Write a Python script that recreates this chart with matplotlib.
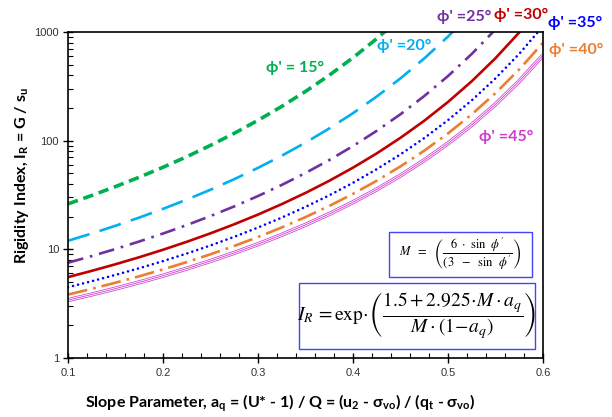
import matplotlib
matplotlib.use("Agg")
import matplotlib.pyplot as plt
from matplotlib.ticker import FixedLocator, NullFormatter, LogLocator

plt.rcParams['font.family'] = ['Lato', 'Noto Sans', 'DejaVu Sans']
plt.rcParams['mathtext.fontset'] = 'custom'
plt.rcParams['mathtext.rm'] = 'Lato:bold'
plt.rcParams['mathtext.it'] = 'Lato:bold'
plt.rcParams['mathtext.bf'] = 'Lato:bold'

# Slope parameter a_q
aq = [0.100, 0.125, 0.150, 0.175, 0.200, 0.225, 0.250, 0.275, 0.300, 0.325,
      0.350, 0.375, 0.400, 0.425, 0.450, 0.475, 0.500, 0.525, 0.550, 0.575, 0.600]

# Rigidity index I_R for each friction angle
ir_15 = [26.2, 31.3, 37.8, 46.1, 56.9, 71.2, 90.5, 116.9, 153.9, 206.7,
         283.9, 400.0, 580.0, 868.5, 1349.3]
ir_20 = [11.99, 13.99, 16.48, 19.60, 23.57, 28.68, 35.36, 44.22, 56.21, 72.72,
         95.97, 129.5, 179.1, 254.9, 374.5, 570.8, 907.5, 1514.9]
ir_25 = [7.53, 8.67, 10.07, 11.81, 13.97, 16.72, 20.25, 24.84, 30.93, 39.14,
         50.43, 66.32, 89.22, 123.2, 175.1, 257.4, 393.2, 628.1, 1056.9]
ir_30 = [5.55, 6.34, 7.29, 8.46, 9.91, 11.73, 14.04, 17.01, 20.89, 26.06,
         33.05, 42.73, 56.45, 76.39, 106.3, 152.5, 227.0, 352.3, 574.1, 990.8, 1830.8]
ir_35 = [4.48, 5.09, 5.82, 6.70, 7.79, 9.15, 10.86, 13.04, 15.87, 19.59,
         24.58, 31.41, 40.96, 54.67, 74.89, 105.7, 154.5, 235.0, 374.4, 630.0, 1131.6]
ir_40 = [3.83, 4.33, 4.93, 5.65, 6.54, 7.63, 9.00, 10.74, 12.98, 15.90,
         19.80, 25.08, 32.39, 42.79, 57.98, 80.86, 116.6, 174.7, 273.8, 452.4, 795.9]
ir_45 = [3.41, 3.84, 4.35, 4.97, 5.72, 6.65, 7.81, 9.28, 11.15, 13.59,
         16.81, 21.16, 27.14, 35.58, 47.80, 66.06, 94.29, 139.7, 216.3, 352.4, 610.4]

labels = ["ϕ' = 15°", "ϕ' =20°", "ϕ' =25°", "ϕ' =30°", "ϕ' =35°", "ϕ' =40°", "ϕ' =45°"]
colors = ['#00B050', '#00B0F0', '#7030A0', '#C00000', '#0000FF', '#ED7D31', '#D03CD0']

fig = plt.figure(figsize=(6.12, 4.17), dpi=100)
ax = fig.add_axes([68 / 612, 1 - 358 / 417, 475 / 612, 326 / 417])

ax.plot(aq[:len(ir_15)], ir_15, color=colors[0], lw=2.6,
        linestyle=(0, (2.9, 1.6)), dash_capstyle='butt')
ax.plot(aq[:len(ir_20)], ir_20, color=colors[1], lw=1.9,
        linestyle=(0, (8.5, 4.0)), dash_capstyle='butt')
ax.plot(aq[:len(ir_25)], ir_25, color=colors[2], lw=1.9,
        linestyle=(0, (6.0, 2.6, 1.0, 2.6)), dash_capstyle='butt')
ax.plot(aq, ir_30, color=colors[3], lw=1.9, solid_capstyle='butt')
ax.plot(aq, ir_35, color=colors[4], lw=1.9,
        linestyle=(0, (0.01, 1.95)), dash_capstyle='round')
ax.plot(aq, ir_40, color=colors[5], lw=1.9,
        linestyle=(0, (7.5, 2.3, 1.0, 2.3)), dash_capstyle='butt')
# triple compound line
ax.plot(aq, ir_45, color=colors[6], lw=3.0, solid_capstyle='butt')
ax.plot(aq, ir_45, color='white', lw=1.9, solid_capstyle='butt')
ax.plot(aq, ir_45, color=colors[6], lw=0.6, solid_capstyle='butt')

ax.set_yscale('log')
ax.set_xlim(0.1, 0.6)
ax.set_ylim(1, 1000)
ax.set_xticks([0.1, 0.2, 0.3, 0.4, 0.5, 0.6])
ax.set_xticklabels(['0.1', '0.2', '0.3', '0.4', '0.5', '0.6'])
ax.xaxis.set_minor_locator(FixedLocator([0.1 + 0.02 * i for i in range(26)]))
ax.yaxis.set_major_locator(FixedLocator([1, 10, 100, 1000]))
ax.set_yticklabels(['1', '10', '100', '1000'])
ax.yaxis.set_minor_locator(LogLocator(base=10, subs=range(2, 10)))
ax.yaxis.set_minor_formatter(NullFormatter())

ax.tick_params(which='major', direction='inout', length=7, width=1.0,
               labelsize=8, labelcolor='#333333', top=False, right=False)
ax.tick_params(which='minor', direction='in', length=3.5, width=0.8,
               top=False, right=False)
ax.tick_params(axis='x', which='major', pad=4)
ax.tick_params(axis='y', which='major', pad=3)
for lab in ax.get_xticklabels() + ax.get_yticklabels():
    lab.set_family(['Liberation Sans'])
for sp in ax.spines.values():
    sp.set_linewidth(1.2)

ax.set_xlabel(r"Slope Parameter, a$_\mathrm{q}$ = (U* - 1) / Q = (u$_\mathrm{2}$ - σ$_\mathrm{vo}$) / (q$_\mathrm{t}$ - σ$_\mathrm{vo}$)",
              fontsize=11.5, fontweight='bold')
ax.set_ylabel(r"Rigidity Index, I$_\mathrm{R}$ = G / s$_\mathrm{u}$",
              fontsize=11.5, fontweight='bold')
ax.xaxis.set_label_coords(0.446, -0.105)
ax.yaxis.set_label_coords(-0.078, 0.561)

# curve labels (positions in figure pixels)
label_pos = [(295, 68), (404, 46), (464, 17), (521, 15), (575, 23), (576, 50), (506, 137)]
for (px, py), txt, c in zip(label_pos, labels, colors):
    fig.text(px / 612, 1 - py / 417, txt, color=c, fontsize=11.5, fontweight='bold',
             ha='center', va='center', family=['Lato', 'Noto Sans', 'DejaVu Sans'])

# formula boxes
box_m = plt.Rectangle((389 / 612, 1 - 277 / 417), 143 / 612, 45 / 417,
                      transform=fig.transFigure, facecolor='white',
                      edgecolor='#4545F5', lw=1.0, zorder=5)
fig.patches.append(box_m)
fig.text(460 / 612, 1 - 254 / 417,
         r"$M\ \ =\ \ \left(\dfrac{6\ \cdot\ \mathrm{sin}\ \ \phi\,^{\prime}}{(3\ \ -\ \ \mathrm{sin}\ \ \phi\,^{\prime}}\right)$",
         math_fontfamily='stix', fontsize=9, ha='center', va='center', zorder=6)

box_i = plt.Rectangle((299 / 612, 1 - 349 / 417), 236 / 612, 66 / 417,
                      transform=fig.transFigure, facecolor='white',
                      edgecolor='#4545F5', lw=1.0, zorder=5)
fig.patches.append(box_i)
fig.text(417 / 612, 1 - 316 / 417,
         r"$I_R\,=\mathrm{exp}\!\cdot\!\left(\dfrac{1.5+2.925\!\cdot\! M\cdot a_q}{M\cdot(1\!-\!a_q)}\right)$",
         math_fontfamily='stix', fontsize=14, ha='center', va='center', zorder=6)

fig.savefig('out.png', dpi=100)
